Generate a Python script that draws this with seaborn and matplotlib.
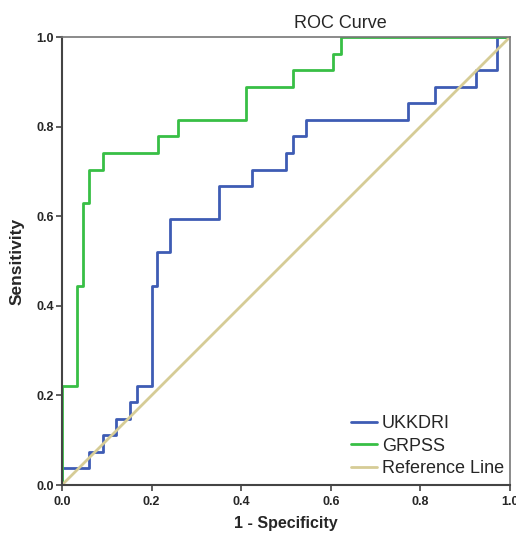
import matplotlib
matplotlib.use("Agg")
import matplotlib.pyplot as plt
import numpy as np
import pandas as pd
import seaborn as sns

# ROC step corners (1 - specificity, sensitivity)
ukkdri_fpr = [0, 0, 0.061, 0.061, 0.091, 0.091, 0.121, 0.121, 0.152, 0.152, 0.167, 0.167,
              0.2, 0.2, 0.212, 0.212, 0.242, 0.242, 0.35, 0.35, 0.424, 0.424, 0.5, 0.5,
              0.515, 0.515, 0.545, 0.545, 0.773, 0.773, 0.833, 0.833, 0.924, 0.924,
              0.97, 0.97, 1.0]
ukkdri_tpr = [0, 0.037, 0.037, 0.074, 0.074, 0.111, 0.111, 0.148, 0.148, 0.185, 0.185, 0.222,
              0.222, 0.444, 0.444, 0.519, 0.519, 0.593, 0.593, 0.667, 0.667, 0.704, 0.704, 0.741,
              0.741, 0.778, 0.778, 0.815, 0.815, 0.852, 0.852, 0.889, 0.889, 0.926,
              0.926, 1.0, 1.0]

grpss_fpr = [0, 0, 0.033, 0.033, 0.046, 0.046, 0.061, 0.061, 0.091, 0.091, 0.214, 0.214,
             0.258, 0.258, 0.411, 0.411, 0.515, 0.515, 0.606, 0.606, 0.623, 0.623, 1.0]
grpss_tpr = [0, 0.222, 0.222, 0.444, 0.444, 0.630, 0.630, 0.704, 0.704, 0.741, 0.741, 0.778,
             0.778, 0.815, 0.815, 0.889, 0.889, 0.926, 0.926, 0.963, 0.963, 1.0, 1.0]

ref_fpr = [0, 1]
ref_tpr = [0, 1]

series = ["UKKDRI", "GRPSS", "Reference Line"]
colors = ["#3e5cb4", "#38bf45", "#d6cc96"]

df = pd.concat([
    pd.DataFrame({"fpr": ukkdri_fpr, "tpr": ukkdri_tpr, "curve": "UKKDRI"}),
    pd.DataFrame({"fpr": grpss_fpr, "tpr": grpss_tpr, "curve": "GRPSS"}),
    pd.DataFrame({"fpr": ref_fpr, "tpr": ref_tpr, "curve": "Reference Line"}),
], ignore_index=True)

sns.set_style("white")
plt.rcParams["font.family"] = ["Liberation Sans", "DejaVu Sans"]

fig = plt.figure(figsize=(5.16, 5.33), dpi=100)
ax = fig.add_axes([62 / 516, 48 / 533, 448 / 516, 448 / 533])

sns.lineplot(data=df, x="fpr", y="tpr", hue="curve", hue_order=series,
             palette=dict(zip(series, colors)), sort=False, estimator=None,
             linewidth=2.0, ax=ax, legend=False)

ax.set_xlim(0, 1)
ax.set_ylim(0, 1)
ticks = [0.0, 0.2, 0.4, 0.6, 0.8, 1.0]
ax.set_xticks(ticks)
ax.set_yticks(ticks)
ax.set_xticklabels([f"{t:.1f}" for t in ticks], fontweight="bold", fontsize=9)
ax.set_yticklabels([f"{t:.1f}" for t in ticks], fontweight="bold", fontsize=9)
ax.tick_params(axis="both", direction="out", length=4, width=1.2, color="#444444",
               pad=2, left=True, bottom=True)
ax.tick_params(axis="x", pad=4)

for side in ["left", "bottom"]:
    ax.spines[side].set_color("#444444")
    ax.spines[side].set_linewidth(1.5)
for side in ["top", "right"]:
    ax.spines[side].set_color("#777777")
    ax.spines[side].set_linewidth(1.2)

ax.set_xlabel("1 - Specificity", fontsize=11.5, fontweight="bold", labelpad=6)
ax.set_ylabel("Sensitivity", fontsize=12.5, fontweight="bold", labelpad=8)
fig.text(340 / 516, 1 - 23 / 533, "ROC Curve", fontsize=13, ha="center", va="center")

handles = [plt.Line2D([], [], color=c, linewidth=2.0) for c in colors]
fig.legend(handles, series, loc="lower right", bbox_to_anchor=(504 / 516, 56 / 533),
           frameon=False, fontsize=13, handlelength=1.45, handletextpad=0.28,
           labelspacing=0.3, borderpad=0, borderaxespad=0)

fig.savefig("out.png", dpi=100)
